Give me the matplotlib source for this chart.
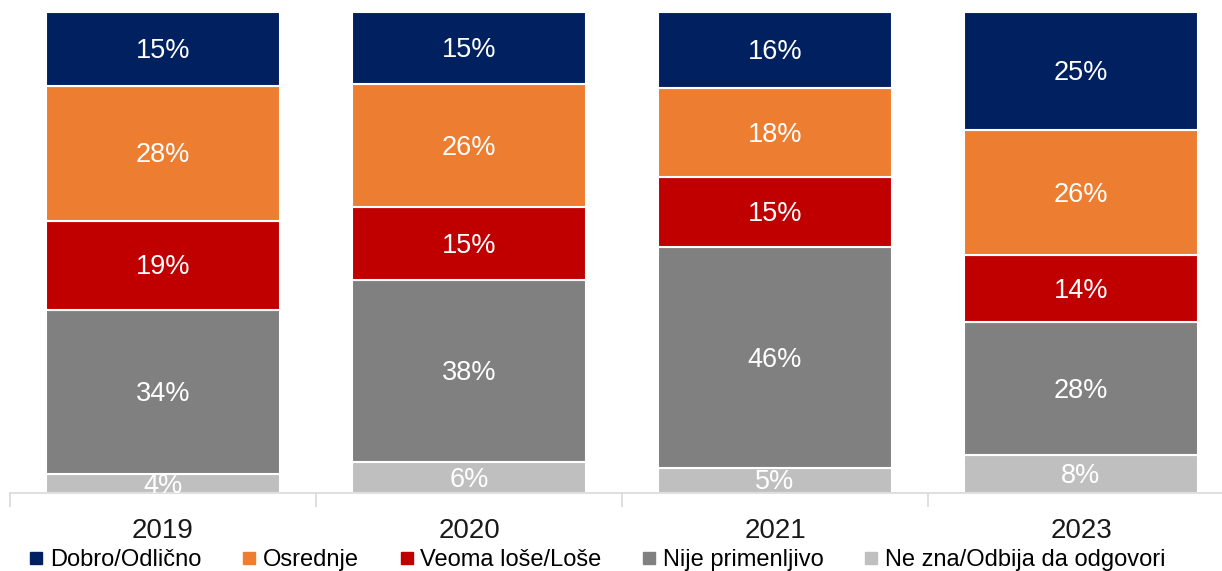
import matplotlib.pyplot as plt
from matplotlib.lines import Line2D
import numpy as np

plt.rcParams['font.family'] = ['Liberation Sans', 'DejaVu Sans']

years = ["2019", "2020", "2021", "2023"]
series = ["Dobro/Odlično", "Osrednje", "Veoma loše/Loše", "Nije primenljivo",
          "Ne zna/Odbija da odgovori"]
colors = ["#002060", "#ED7D31", "#C00000", "#808080", "#BFBFBF"]

# shares in % (stack order: bottom -> top)
ne_zna = [3.9, 6.4, 5.2, 7.9]
nije_prim = [34.1, 37.8, 45.9, 27.6]
lose = [18.6, 15.2, 14.6, 13.9]
osrednje = [28.0, 25.6, 18.4, 26.0]
dobro = [15.4, 15.0, 15.9, 24.6]

stack = [ne_zna, nije_prim, lose, osrednje, dobro]
stack_colors = ["#BFBFBF", "#808080", "#C00000", "#ED7D31", "#002060"]

fig = plt.figure(figsize=(12.22, 5.71), dpi=100)
ax = fig.add_axes([10 / 1222, 1 - 493 / 571, 1224 / 1222, 481 / 571])

x = np.arange(len(years))
bottom = np.zeros(len(years))
for vals, col in zip(stack, stack_colors):
    vals = np.array(vals)
    ax.bar(x, vals, 0.765, bottom=bottom, color=col, edgecolor="white",
           linewidth=1.5)
    for xi, b, v in zip(x, bottom, vals):
        ax.text(xi, b + v / 2 - 0.4, f"{int(round(v))}%", ha="center",
                va="center", color="white", fontsize=19.5, clip_on=True)
    bottom += vals

ax.set_xlim(-0.5, 3.5)
ax.set_ylim(0, 100)
ax.set_yticks([])
for s in ["top", "right", "left"]:
    ax.spines[s].set_visible(False)
ax.spines["bottom"].set_color("#D9D9D9")
ax.spines["bottom"].set_linewidth(1.2)

ax.set_xticks(x)
ax.set_xticklabels(years, fontsize=20, color="#1a1a1a")
ax.tick_params(axis="x", which="major", length=0, pad=18)
ax.set_xticks([-0.5, 0.5, 1.5, 2.5], minor=True)
ax.tick_params(axis="x", which="minor", length=10, color="#D9D9D9", width=1.2)

handles = [Line2D([], [], marker="s", linestyle="none", markersize=9,
                  color=c) for c in colors]
fig.legend(handles, series, loc="center left",
           bbox_to_anchor=(30 / 1222, 1 - 560 / 571), ncol=5, frameon=False,
           fontsize=17, handlelength=0.55, handletextpad=0.3,
           columnspacing=1.75, borderpad=0, borderaxespad=0)

fig.savefig("out.png", dpi=100)
